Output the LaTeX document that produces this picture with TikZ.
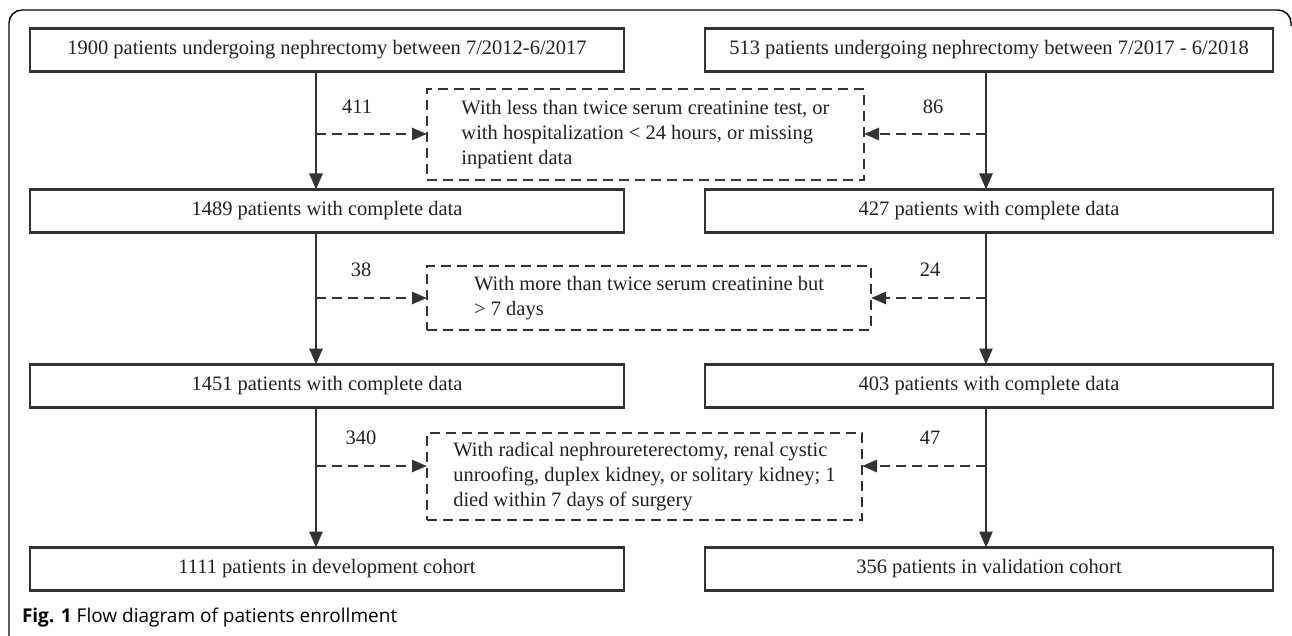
\documentclass[tikz,border=0pt]{standalone}
\usepackage{fontspec}
\setmainfont{Liberation Serif}
\newfontfamily\capfont{Open Sans}
\usetikzlibrary{arrows.meta}
\definecolor{ln}{HTML}{333333}
\definecolor{tx}{HTML}{222222}
\begin{document}
\begin{tikzpicture}[x=1pt,y=-1pt,
  every node/.style={inner sep=0pt,outer sep=0pt,text=tx},
  solidbox/.style={draw=ln,line width=2.6pt,minimum height=43pt,font=\fontsize{20.5}{24}\selectfont},
  dashbox/.style={draw=ln,line width=2.6pt,dash pattern=on 10pt off 6pt,align=left,anchor=north west,font=\fontsize{20.5}{25}\selectfont,inner xsep=11pt},
  flow/.style={draw=ln,line width=2.6pt,-{Triangle[length=16pt,width=13pt]}},
  excl/.style={draw=ln,line width=2.6pt,dash pattern=on 10pt off 6pt,-{Triangle[length=15pt,width=12pt]}},
  num/.style={font=\fontsize{20.5}{24}\selectfont}]
\useasboundingbox (0,0) rectangle (1292,636);
\fill[white] (0,0) rectangle (1292,636);
% frame
\draw[black,line width=1.4pt] (9,636) -- (9,23) arc[start angle=180,end angle=270,radius=13] -- (1278,10) arc[start angle=270,end angle=360,radius=13] -- (1291,26);
% left column
\node[solidbox,minimum width=594pt] (A) at (327,50) {1900 patients undergoing nephrectomy between 7/2012-6/2017};
\node[solidbox,minimum width=594pt] (C) at (327,211) {1489 patients with complete data};
\node[solidbox,minimum width=594pt] (E) at (327,386) {1451 patients with complete data};
\node[solidbox,minimum width=594pt] (G) at (327,569) {1111 patients in development cohort};
% right column
\node[solidbox,minimum width=568pt] (B) at (989,50) {513 patients undergoing nephrectomy between 7/2017 - 6/2018};
\node[solidbox,minimum width=568pt] (D) at (989,211) {427 patients with complete data};
\node[solidbox,minimum width=568pt] (F) at (989,386) {403 patients with complete data};
\node[solidbox,minimum width=568pt] (H) at (989,569) {356 patients in validation cohort};
% exclusion boxes
\node[dashbox,minimum width=437pt,minimum height=91pt] (X1) at (427,89) {With less than twice serum creatinine test, or\\with hospitalization < 24 hours, or missing\\inpatient data};
\node[dashbox,minimum width=444pt,minimum height=64pt] (X2) at (427,266) {With more than twice serum creatinine but\\> 7 days};
\node[dashbox,minimum width=435pt,minimum height=87pt] (X3) at (427,433) {With radical nephroureterectomy, renal cystic\\unroofing, duplex kidney, or solitary kidney; 1\\died within 7 days of surgery};
% columns
\coordinate (Lx) at (316,0);
\coordinate (Rx) at (986,0);
\draw[flow] (A.south -| Lx) -- (C.north -| Lx);
\draw[flow] (C.south -| Lx) -- (E.north -| Lx);
\draw[flow] (E.south -| Lx) -- (G.north -| Lx);
\draw[flow] (B.south -| Rx) -- (D.north -| Rx);
\draw[flow] (D.south -| Rx) -- (F.north -| Rx);
\draw[flow] (F.south -| Rx) -- (H.north -| Rx);
% branches
\coordinate (l1) at (316,134); \coordinate (r1) at (986,134);
\coordinate (l2) at (316,298); \coordinate (r2) at (986,298);
\coordinate (l3) at (316,466); \coordinate (r3) at (986,466);
\draw[excl] (l1) -- (X1.west |- l1);
\draw[excl] (r1) -- (X1.east |- r1);
\draw[excl] (l2) -- (X2.west |- l2);
\draw[excl] (r2) -- (X2.east |- r2);
\draw[excl] (l3) -- (X3.west |- l3);
\draw[excl] (r3) -- (X3.east |- r3);
% labels
\node[num] (n1) at (357,107) {411};
\node[num] (n2) at (933,107) {86};
\node[num] (n3) at (361,270) {38};
\node[num] (n4) at (930,270) {24};
\node[num] (n5) at (361,438) {340};
\node[num] (n6) at (930,438) {47};
% caption
\node[anchor=base west,font=\capfont\fontsize{19}{23}\selectfont,text=black] (cap) at (22,622) {\textbf{Fig. 1} Flow diagram of patients enrollment};
\end{tikzpicture}
\end{document}
